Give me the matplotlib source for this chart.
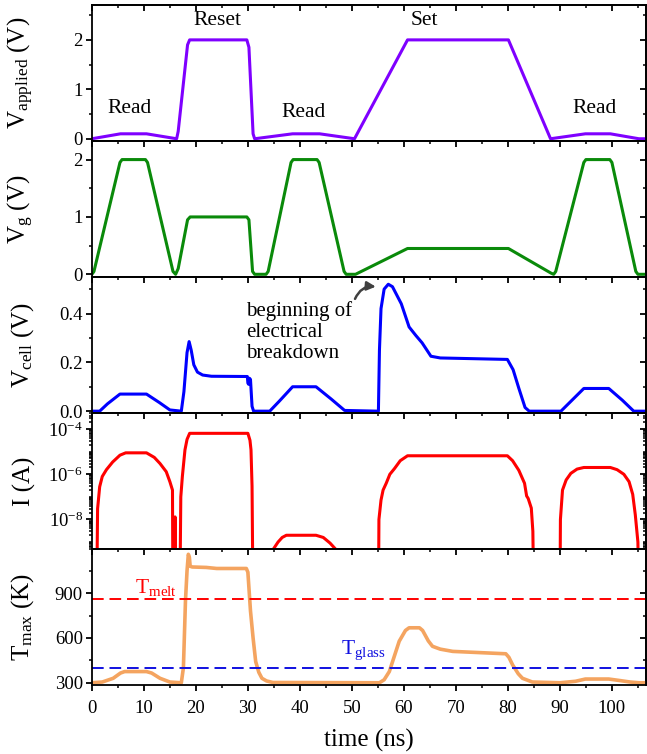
import numpy as np
import matplotlib
matplotlib.use("Agg")
import matplotlib.pyplot as plt
from matplotlib.ticker import MultipleLocator, FixedLocator, FuncFormatter, LogLocator, NullFormatter

# applied pulse sequence (read / reset / read / set / read)
t_app = [0, 5.5, 10.5, 16.3, 16.6, 18.4, 18.8, 29.8, 30.2, 31.0, 31.3, 38.6, 43.8, 50.5,
         60.7, 80.1, 88.2, 94.9, 99.7, 105.2, 106.5]
v_app = [0, 0.1, 0.1, 0, 0.15, 1.9, 2.0, 2.0, 1.85, 0.1, 0, 0.1, 0.1, 0,
         2.0, 2.0, 0, 0.1, 0.1, 0, 0]

# gate voltage
t_g = [0, 0.4, 5.4, 5.8, 10.3, 10.7, 15.6, 16.1, 16.6, 18.4, 18.9, 29.8, 30.2, 30.9, 31.3,
       33.5, 33.9, 38.3, 38.7, 43.3, 43.7, 48.5, 48.9, 50.7, 60.7, 80.1, 88.3, 88.8, 89.2,
       94.6, 95.0, 99.6, 100.0, 104.6, 105.0, 106.5]
v_g = [0, 0.05, 1.95, 2.0, 2.0, 1.95, 0.05, 0, 0.1, 0.95, 1.0, 1.0, 0.95, 0.05, 0,
       0, 0.05, 1.95, 2.0, 2.0, 1.95, 0.05, 0, 0, 0.45, 0.45, 0.02, 0, 0.05,
       1.95, 2.0, 2.0, 1.95, 0.05, 0, 0]

# voltage across the cell
t_cell = [0, 1.5, 3.0, 5.4, 10.5, 13.0, 15.0, 17.2, 17.7, 18.3, 18.7, 19.1, 19.6, 20.3, 21.3,
          23.0, 29.9, 30.0, 30.15, 30.3, 30.5, 30.8, 31.1, 34.2, 36.0, 38.6, 43.1, 46.0,
          48.6, 55.1, 55.3, 55.6, 56.2, 57.0, 57.8, 59.5, 61.0, 62.3, 63.5, 65.2, 67.0,
          79.9, 81.0, 82.1, 83.3, 84.1, 90.2, 94.6, 99.4, 102.0, 104.2, 106.5]
v_cell = [0, 0, 0.03, 0.07, 0.07, 0.035, 0.005, 0, 0.08, 0.24, 0.285, 0.25, 0.19, 0.16, 0.148,
          0.143, 0.142, 0.115, 0.11, 0.135, 0.13, 0.02, 0, 0, 0.04, 0.1, 0.1, 0.05,
          0.003, 0, 0.25, 0.42, 0.50, 0.52, 0.51, 0.44, 0.345, 0.31, 0.28, 0.225, 0.218,
          0.212, 0.17, 0.094, 0.015, 0, 0, 0.093, 0.093, 0.045, 0, 0]

# cell current (A); 1e-12 marks points that fall off the bottom of the log axis
t_i = [0.9, 1.1, 1.5, 2.0, 2.8, 4.0, 5.4, 6.5, 10.5, 12.0, 13.1, 14.3, 15.0, 15.5, 15.6, 15.9,
       16.0, 16.1,
       16.9, 17.1, 17.4, 17.9, 18.3, 18.8, 30.0, 30.4, 30.6, 30.8, 31.0,
       34.8, 35.8, 36.6, 37.4, 43.1, 44.5, 45.8, 47.0, 47.2,
       55.1, 55.2, 55.6, 56.0, 56.6, 57.3, 58.2, 59.3, 60.7, 79.9, 80.9, 82.1, 83.2, 83.6,
       83.9, 84.5, 84.8, 85.0,
       90.0, 90.1, 90.5, 91.2, 92.1, 93.3, 94.6, 99.7, 101.0, 102.3, 103.3, 104.0, 104.5,
       105.0, 105.2]
i_cell = [1e-12, 3e-8, 2.8e-7, 8e-7, 1.6e-6, 3.5e-6, 7e-6, 8.9e-6, 8.9e-6, 5.6e-6, 3e-6, 1.3e-6,
          4.7e-7, 2e-7, 1e-12, 1e-12, 1.3e-8, 1e-12,
          1e-12, 1e-7, 8e-7, 1.2e-5, 3.5e-5, 6.5e-5, 6.5e-5, 3.2e-5, 1.2e-5, 3e-7, 1e-12,
          4.5e-10, 1e-9, 1.6e-9, 2e-9, 2e-9, 1.6e-9, 9e-10, 4.5e-10, 1e-12,
          1e-12, 1e-8, 7.2e-8, 2e-7, 4e-7, 1e-6, 1.8e-6, 4e-6, 6.6e-6, 6.6e-6, 4e-6, 1.5e-6,
          4e-7, 1.1e-7, 8.5e-8, 3.2e-8, 3e-9, 1e-12,
          1e-12, 1e-8, 2e-7, 5.6e-7, 1.1e-6, 1.7e-6, 2e-6, 2e-6, 1.6e-6, 1e-6, 4.7e-7, 1.3e-7,
          1.6e-8, 1e-9, 1e-12]

# peak temperature in the cell (K)
t_T = [0, 2.0, 4.1, 5.5, 6.3, 10.5, 11.5, 13.1, 15.0, 17.2, 17.6, 18.0, 18.3, 18.55, 18.75,
       18.9, 19.3, 22.0, 24.0, 29.7, 30.0, 30.5, 31.0, 31.5, 32.1, 32.7, 33.6, 34.8, 55.3,
       56.2, 57.2, 59.1, 60.3, 61.0, 63.0, 63.6, 64.7, 65.5, 67.0, 69.4, 79.6, 80.2, 80.9,
       82.0, 82.8, 84.7, 90.0, 93.0, 94.9, 99.4, 101.5, 103.5, 105.2, 106.5]
T_max = [300, 305, 330, 365, 375, 375, 365, 330, 305, 300, 400, 850, 1050, 1160, 1140,
         1080, 1075, 1072, 1065, 1065, 1040, 781, 600, 442, 370, 330, 312, 302, 300,
         320, 375, 578, 650, 668, 668, 650, 580, 544, 525, 510, 494, 470, 420,
         360, 330, 305, 300, 310, 325, 325, 315, 305, 300, 300]

T_melt = 860
T_glass = 400

pulse_labels = ["Read", "Reset", "Read", "Set", "Read"]
pulse_label_t = [7.3, 24.2, 40.7, 63.9, 96.7]
pulse_label_v = [0.61, 2.39, 0.53, 2.39, 0.61]

plt.rcParams["font.family"] = ["Liberation Serif", "DejaVu Serif"]
plt.rcParams["mathtext.fontset"] = "custom"
plt.rcParams["mathtext.rm"] = "Liberation Serif"
plt.rcParams["mathtext.it"] = "Liberation Serif:italic"
plt.rcParams["font.size"] = 13.5
plt.rcParams["axes.linewidth"] = 1.3

fig, axes = plt.subplots(5, 1, sharex=True, figsize=(6.47, 7.54), dpi=100,
                         gridspec_kw=dict(hspace=0))
fig.subplots_adjust(left=0.142, right=0.998, top=0.993, bottom=0.0915)

lw = 2.2
axes[0].plot(t_app, v_app, color="#7F00FF", lw=lw)
axes[1].plot(t_g, v_g, color="#0A8A0A", lw=lw)
axes[2].plot(t_cell, v_cell, color="#0000FF", lw=lw)
axes[3].semilogy(t_i, i_cell, color="#FF0000", lw=lw)
axes[4].plot(t_T, T_max, color="#F4A460", lw=lw + 0.4)

axes[4].axhline(T_melt, color="#FF0000", lw=1.4, ls=(0, (6, 3)))
axes[4].axhline(T_glass, color="#1010E0", lw=1.4, ls=(0, (6, 3)))

# pulse names
for lab, tx, vy in zip(pulse_labels, pulse_label_t, pulse_label_v):
    axes[0].text(tx, vy, lab, ha="center", va="center", fontsize=15.5)

axes[2].text(29.7, 0.325, "beginning of\nelectrical\nbreakdown", ha="left", va="center",
             fontsize=15, linespacing=1.15)
axes[2].annotate("", xy=(54.6, 0.51), xytext=(50.6, 0.46),
                 arrowprops=dict(arrowstyle="-|>", color="#404040", lw=1.8,
                                 connectionstyle="arc3,rad=-0.35", mutation_scale=13,
                                 shrinkA=0, shrinkB=0))

axes[4].text(8.2, 941, r"T$_\mathregular{melt}$", color="#FF0000", fontsize=15.5,
             ha="left", va="center")
axes[4].text(47.9, 521, r"T$_\mathregular{glass}$", color="#1010E0", fontsize=15.5,
             ha="left", va="center")

# axis ranges, ticks, labels
axes[0].set_ylim(-0.05, 2.7)
axes[0].yaxis.set_major_locator(MultipleLocator(1))
axes[0].yaxis.set_minor_locator(MultipleLocator(0.5))
axes[0].set_ylabel(r"V$_\mathregular{applied}$ (V)")

axes[1].set_ylim(-0.05, 2.32)
axes[1].yaxis.set_major_locator(MultipleLocator(1))
axes[1].yaxis.set_minor_locator(MultipleLocator(0.5))
axes[1].set_ylabel(r"V$_\mathregular{g}$ (V)")

axes[2].set_ylim(-0.008, 0.549)
axes[2].yaxis.set_major_locator(MultipleLocator(0.2))
axes[2].yaxis.set_minor_locator(MultipleLocator(0.1))
axes[2].yaxis.set_major_formatter(FuncFormatter(lambda v, p: f"{v:.1f}"))
axes[2].set_ylabel(r"V$_\mathregular{cell}$ (V)")

axes[3].set_ylim(4.9e-10, 5.1e-4)
axes[3].yaxis.set_major_locator(FixedLocator([1e-8, 1e-6, 1e-4]))
axes[3].yaxis.set_major_formatter(
    FuncFormatter(lambda v, p: r"10$^{\mathregular{%d}}$" % round(np.log10(v))))
axes[3].yaxis.set_minor_locator(LogLocator(base=10, subs=np.arange(1, 10), numticks=30))
axes[3].yaxis.set_minor_formatter(NullFormatter())
axes[3].set_ylabel("I (A)")

axes[4].set_ylim(285, 1195)
axes[4].yaxis.set_major_locator(MultipleLocator(300))
axes[4].yaxis.set_minor_locator(MultipleLocator(150))
axes[4].set_ylabel(r"T$_\mathregular{max}$ (K)")

axes[4].set_xlim(0, 106.5)
axes[4].xaxis.set_major_locator(MultipleLocator(10))
axes[4].xaxis.set_minor_locator(MultipleLocator(5))
axes[4].set_xlabel("time (ns)", fontsize=18, labelpad=9)

for ax in axes:
    ax.yaxis.label.set_fontsize(18)
    ax.yaxis.set_label_coords(-0.10, 0.5)
    ax.tick_params(axis="both", which="major", direction="out", length=4.5, width=1.3, pad=2)
    ax.tick_params(axis="both", which="minor", direction="out", length=2.5, width=1.1)
    ax.tick_params(axis="x", which="major", pad=6)
    # mirrored ticks pointing inwards on top and right
    top = ax.secondary_xaxis("top")
    top.xaxis.set_major_locator(MultipleLocator(10))
    top.xaxis.set_minor_locator(MultipleLocator(5))
    top.tick_params(which="major", direction="in", length=4.5, width=1.3, labeltop=False)
    top.tick_params(which="minor", direction="in", length=2.5, width=1.1)
    right = ax.secondary_yaxis("right")
    right.yaxis.set_major_locator(ax.yaxis.get_major_locator())
    right.yaxis.set_minor_locator(ax.yaxis.get_minor_locator())
    right.tick_params(which="major", direction="in", length=4.5, width=1.3, labelright=False)
    right.tick_params(which="minor", direction="in", length=2.5, width=1.1)
    right.yaxis.set_minor_formatter(NullFormatter())

plt.savefig("out.png", dpi=100)
plt.close()
